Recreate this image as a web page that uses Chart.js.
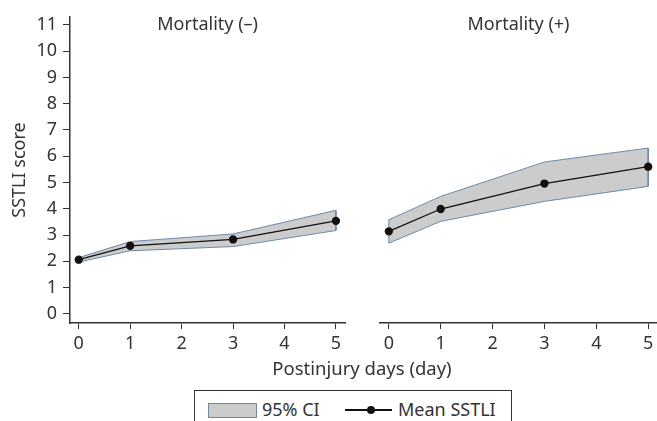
<!DOCTYPE html>
<html>
<head>
<meta charset="utf-8">
<script src="https://cdn.jsdelivr.net/npm/chart.js@4.4.1/dist/chart.umd.min.js"></script>
<style>
  html, body { margin: 0; padding: 0; background: #fff; }
  body { width: 657px; height: 421px; position: relative; overflow: hidden; font-family: 'Noto Sans', sans-serif; color: #333; }
  .box { position: absolute; }
  #xtitle { left: 0; width: 724px; top: 355px; text-align: center; font-size: 18.5px; }
  #legend { left: 194px; top: 390px; width: 318px; height: 40px; border: 1px solid #333; box-sizing: border-box; }
  .sw { position: absolute; left: 13px; top: 12px; width: 47px; height: 13px; background: #cccccc; border: 1px solid #6e8aa8; }
  .lab { position: absolute; top: 6px; font-size: 18px; line-height: 24px; white-space: nowrap; }
  .ln { position: absolute; left: 150px; top: 18px; width: 47px; height: 1.5px; background: #111; }
  .dot { position: absolute; left: 172px; top: 15px; width: 8px; height: 8px; border-radius: 50%; background: #111; }
</style>
</head>
<body>
<canvas id="left" class="box" style="left:0;top:0"></canvas>
<canvas id="right" class="box" style="left:360px;top:0"></canvas>
<div id="xtitle" class="box">Postinjury days (day)</div>
<div id="legend" class="box">
  <div class="sw"></div>
  <div class="lab" style="left:67px">95% CI</div>
  <div class="ln"></div>
  <div class="dot"></div>
  <div class="lab" style="left:203px">Mean SSTLI</div>
</div>
<script>
// dati
const giorni = [0, 1, 3, 5]
const xTicks = [0, 1, 2, 3, 4, 5]
const yTicks = [0, 1, 2, 3, 4, 5, 6, 7, 8, 9, 10, 11]

const mediaNeg = [2.06, 2.59, 2.83, 3.54]
const supNeg = [2.14, 2.75, 3.04, 3.94]
const infNeg = [1.97, 2.40, 2.56, 3.17]

const mediaPos = [3.14, 3.99, 4.96, 5.60]
const supPos = [3.58, 4.47, 5.78, 6.31]
const infPos = [2.69, 3.52, 4.28, 4.85]

const titoli = ['Mortality (–)', 'Mortality (+)']

const testo = '#333333'
const font = { family: "'Noto Sans', sans-serif", size: 18 }

// contorno chiuso della banda CI
function banda(sup, inf) {
    const pts = giorni.map((g, i) => ({ x: g, y: sup[i] }))
    for (let i = giorni.length - 1; i >= 0; i--) pts.push({ x: giorni[i], y: inf[i] })
    pts.push({ x: giorni[0], y: sup[0] })
    return pts
}

const titoloPlugin = {
    id: 'titoloPannello',
    afterDraw(chart, args, opts) {
        const { ctx, chartArea } = chart
        ctx.save()
        ctx.font = "18px 'Noto Sans', sans-serif"
        ctx.fillStyle = testo
        ctx.textAlign = 'center'
        ctx.textBaseline = 'middle'
        ctx.fillText(opts.text, (chartArea.left + chartArea.right) / 2, 25)
        ctx.restore()
    }
}

// il pannello destro esce oltre il bordo (overflow nascosto)
function creaGrafico(id, w, media, sup, inf, titolo, conY, padLeft, padRight) {
    const canvas = document.getElementById(id)
    canvas.width = w
    canvas.height = 360
    canvas.style.width = w + 'px'
    canvas.style.height = '360px'
    return new Chart(canvas, {
        type: 'line',
        data: {
            datasets: [
                {
                    label: 'Mean SSTLI',
                    data: giorni.map((g, i) => ({ x: g, y: media[i] })),
                    borderColor: '#111',
                    backgroundColor: '#111',
                    borderWidth: 1.3,
                    pointRadius: 3.5,
                    pointHoverRadius: 3.5,
                    fill: false,
                    tension: 0,
                    order: 0
                },
                {
                    label: '95% CI',
                    data: banda(sup, inf),
                    borderColor: '#6e8aa8',
                    backgroundColor: '#cccccc',
                    borderWidth: 1,
                    pointRadius: 0,
                    fill: 'shape',
                    tension: 0,
                    order: 1
                }
            ]
        },
        plugins: [titoloPlugin],
        options: {
            responsive: false,
            animation: false,
            layout: { padding: { top: 17, right: padRight, left: padLeft, bottom: 0 } },
            plugins: {
                legend: { display: false },
                tooltip: { enabled: false },
                titoloPannello: { text: titolo }
            },
            scales: {
                x: {
                    type: 'linear',
                    min: -0.17,
                    max: conY ? 5.18 : 5.17,
                    afterBuildTicks: s => { s.ticks = xTicks.map(v => ({ value: v })) },
                    afterFit: s => { s.height = 37 },
                    ticks: { color: testo, font: font, padding: 4, maxRotation: 0 },
                    grid: { drawOnChartArea: false, tickLength: 6, color: testo },
                    border: { color: testo, width: 1.5 }
                },
                y: {
                    display: conY,
                    min: -0.35,
                    max: 11.3,
                    afterBuildTicks: s => { s.ticks = yTicks.map(v => ({ value: v })) },
                    afterFit: s => { s.width = conY ? 70 : 0 },
                    ticks: { color: testo, font: font, padding: 6 },
                    grid: { drawOnChartArea: false, tickLength: 7, color: testo },
                    border: { color: testo, width: 1.5 },
                    title: { display: true, text: 'SSTLI score', color: testo, font: font, padding: { top: 9, bottom: 0 } }
                }
            }
        }
    })
}

creaGrafico('left', 350, mediaNeg, supNeg, infNeg, titoli[0], true, 0, 3)
creaGrafico('right', 317, mediaPos, supPos, infPos, titoli[1], false, 20, 20)
</script>
</body>
</html>
